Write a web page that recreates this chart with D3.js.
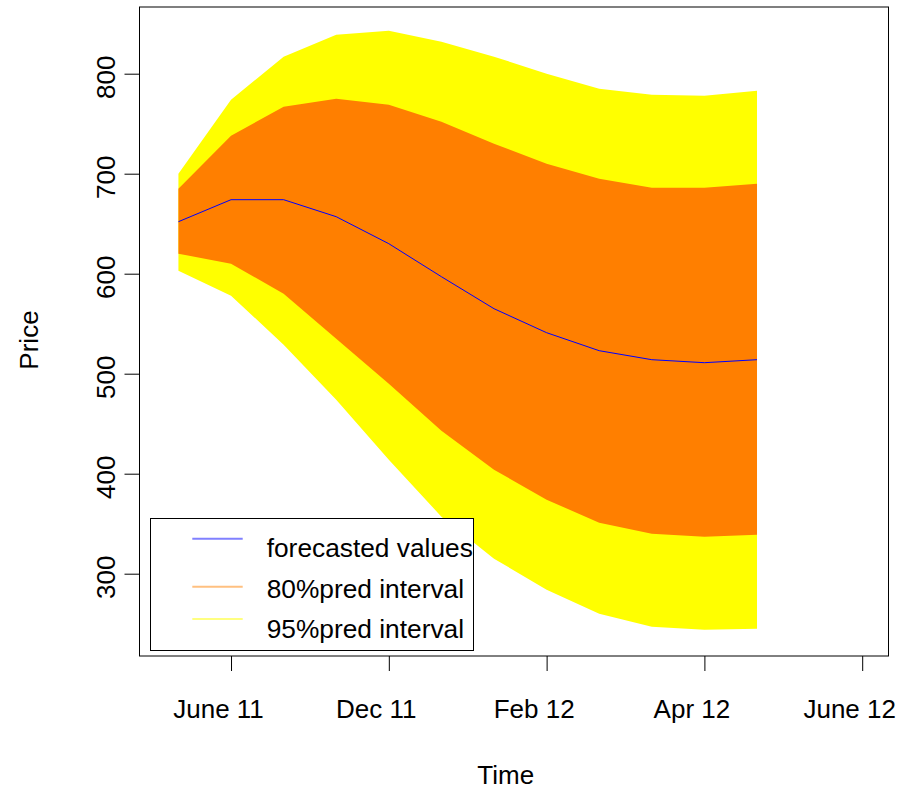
<!DOCTYPE html>
<html>
<head>
<meta charset="utf-8">
<script src="https://cdn.jsdelivr.net/npm/d3@7"></script>
<style>
  html, body { margin: 0; padding: 0; background: #fff; }
  svg { display: block; font-family: "Liberation Sans", Arial, Helvetica, sans-serif; }
</style>
</head>
<body>
<svg id="chart" width="909" height="791"></svg>
<script>
// Forecast horizon: 12 monthly steps (index 0..11)
const steps = [0, 1, 2, 3, 4, 5, 6, 7, 8, 9, 10, 11];
const forecast = [652, 674, 674, 657, 630, 597, 565, 541, 523, 514, 511, 514];
const lo80 = [620, 610, 580, 535, 490, 443, 404, 374, 351, 340, 337, 339];
const hi80 = [685, 738, 767, 775, 769, 752, 730, 710, 695, 686, 686, 690];
const lo95 = [603, 578, 529, 474, 414, 357, 315, 284, 260, 247, 244, 245];
const hi95 = [700, 774, 817, 839, 843, 832, 817, 800, 785, 779, 778, 783];

// Time axis ticks (step positions) and their labels
const timeTicks = [1, 4, 7, 10, 13];
const timeLabels = ["June 11", "Dec 11", "Feb 12", "Apr 12", "June 12"];
const priceTicks = [300, 400, 500, 600, 700, 800];

const legendLabels = ["forecasted values", "80%pred interval", "95%pred interval"];
const legendColors = ["#8080ff", "#ffc080", "#ffff80"];

const plot = { left: 139.5, right: 888.5, top: 7, bottom: 656 };
const fontFamily = "'Liberation Sans', Arial, sans-serif";

const svg = d3.select("#chart");

const x = d3.scaleLinear().domain([-0.74, 13.5]).range([plot.left, plot.right]);
const y = d3.scaleLinear().domain([217.7, 866.7]).range([plot.bottom, plot.top]);

const rows = steps.map((s, i) => ({
  s, f: forecast[i], l80: lo80[i], h80: hi80[i], l95: lo95[i], h95: hi95[i]
}));

// 95% band
svg.append("path")
  .datum(rows)
  .attr("fill", "#ffff00")
  .attr("d", d3.area().x(d => x(d.s)).y0(d => y(d.l95)).y1(d => y(d.h95)));

// 80% band
svg.append("path")
  .datum(rows)
  .attr("fill", "#ff7f00")
  .attr("d", d3.area().x(d => x(d.s)).y0(d => y(d.l80)).y1(d => y(d.h80)));

// Point forecast
svg.append("path")
  .datum(rows)
  .attr("fill", "none")
  .attr("stroke", "#0000ff")
  .attr("stroke-width", 1)
  .attr("d", d3.line().x(d => x(d.s)).y(d => y(d.f)));

// Plot frame
svg.append("rect")
  .attr("x", plot.left).attr("y", plot.top)
  .attr("width", plot.right - plot.left).attr("height", plot.bottom - plot.top)
  .attr("fill", "none").attr("stroke", "#000").attr("stroke-width", 1);

// Bottom axis
const xAxis = svg.append("g")
  .attr("transform", `translate(0,${plot.bottom})`)
  .call(d3.axisBottom(x).tickValues(timeTicks)
    .tickFormat((d, i) => timeLabels[i]).tickSize(15));
xAxis.select(".domain").remove();
xAxis.selectAll(".tick line").attr("stroke", "#000");
xAxis.selectAll(".tick text")
  .attr("y", 62.3).attr("dy", null).attr("dx", -13)
  .attr("fill", "#000")
  .style("font-size", "26px")
  .style("font-family", fontFamily);

// Left axis with rotated labels
const yAxis = svg.append("g")
  .attr("transform", `translate(${plot.left},0)`)
  .call(d3.axisLeft(y).tickValues(priceTicks).tickSize(15));
yAxis.select(".domain").remove();
yAxis.selectAll(".tick line").attr("stroke", "#000");
yAxis.selectAll(".tick text")
  .attr("transform", "rotate(-90)")
  .attr("x", -3).attr("y", -24.5).attr("dy", null)
  .attr("text-anchor", "middle")
  .attr("fill", "#000")
  .style("font-size", "26px")
  .style("font-family", fontFamily);

// Axis titles
svg.append("text")
  .attr("x", 505.7).attr("y", 784.3)
  .attr("text-anchor", "middle")
  .style("font-size", "26px")
  .text("Time");

svg.append("text")
  .attr("transform", "translate(38,340) rotate(-90)")
  .attr("text-anchor", "middle")
  .style("font-size", "26px")
  .text("Price");

// Legend
const legend = svg.append("g");
legend.append("rect")
  .attr("x", 150.5).attr("y", 518.5).attr("width", 323).attr("height", 132)
  .attr("fill", "#fff").attr("stroke", "#000").attr("stroke-width", 1);

const lineY = [538.7, 586.7, 619];
const textY = [556.7, 597.5, 637.5];
legendLabels.forEach((lab, i) => {
  legend.append("line")
    .attr("x1", 192.3).attr("x2", 242.7)
    .attr("y1", lineY[i]).attr("y2", lineY[i])
    .attr("stroke", legendColors[i]).attr("stroke-width", 2);
  legend.append("text")
    .attr("x", 266.7).attr("y", textY[i])
    .style("font-size", "26.3px")
    .text(lab);
});
</script>
</body>
</html>
